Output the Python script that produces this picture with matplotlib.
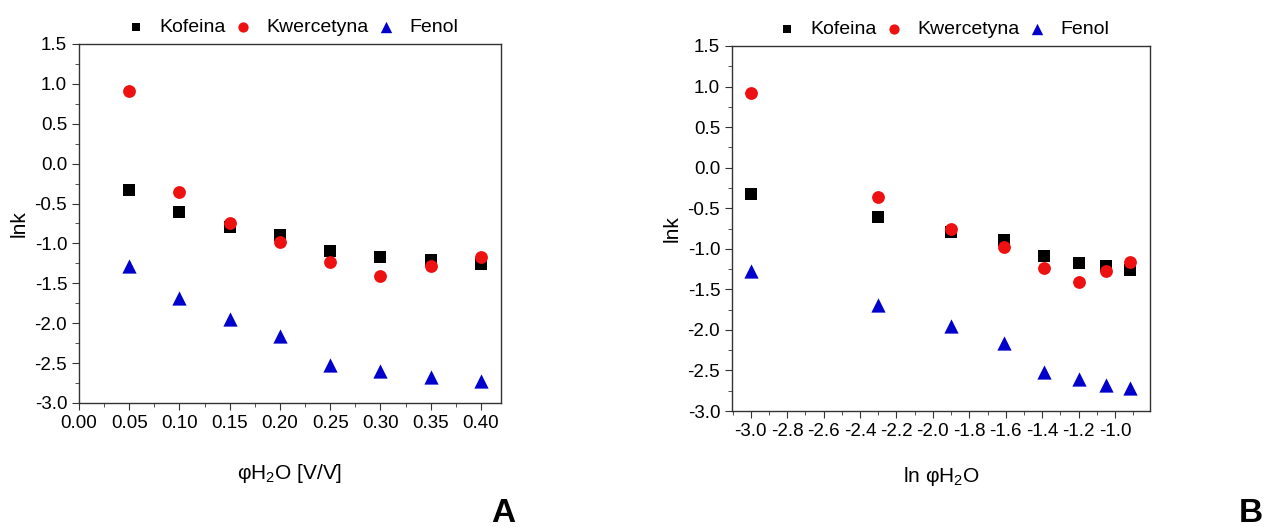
import matplotlib
matplotlib.use("Agg")
import matplotlib.pyplot as plt
from matplotlib.ticker import MultipleLocator, FormatStrFormatter

plt.rcParams['font.family'] = ['Liberation Sans', 'DejaVu Sans']
plt.rcParams['mathtext.fontset'] = 'custom'
plt.rcParams['mathtext.rm'] = 'Liberation Sans'
plt.rcParams['mathtext.it'] = 'Liberation Sans:italic'

phi = [0.05, 0.10, 0.15, 0.20, 0.25, 0.30, 0.35, 0.40]
ln_phi = [-3.00, -2.30, -1.90, -1.61, -1.39, -1.20, -1.05, -0.92]
kofeina = [-0.33, -0.61, -0.79, -0.89, -1.09, -1.17, -1.21, -1.26]
kwercetyna = [0.915, -0.36, -0.75, -0.98, -1.235, -1.41, -1.28, -1.165]
fenol = [-1.28, -1.69, -1.95, -2.16, -2.52, -2.60, -2.68, -2.72]

series = [("Kofeina", kofeina, "s", "black", 64),
          ("Kwercetyna", kwercetyna, "o", "#ee1111", 85),
          ("Fenol", fenol, "^", "#0000cc", 105)]

fig = plt.figure(figsize=(12.66, 5.27), dpi=100)
W, H = 1266, 527
axA = fig.add_axes([79 / W, 1 - 403 / H, (501 - 79) / W, (403 - 44) / H])
axB = fig.add_axes([732 / W, 1 - 411 / H, (1150 - 732) / W, (411 - 46) / H])

for ax, xs in ((axA, phi), (axB, ln_phi)):
    for name, ys, m, c, s in series:
        ax.scatter(xs, ys, marker=m, color=c, s=s, label=name, linewidths=0, zorder=3)
    ax.set_ylim(-3.0, 1.5)
    ax.yaxis.set_major_locator(MultipleLocator(0.5))
    ax.yaxis.set_minor_locator(MultipleLocator(0.25))
    ax.yaxis.set_major_formatter(FormatStrFormatter('%.1f'))
    ax.tick_params(which='both', direction='out', top=False, right=False, labelsize=13.5, color='#333333')
    ax.tick_params(which='major', length=5)
    ax.tick_params(which='minor', length=3)
    for sp in ax.spines.values():
        sp.set_color('#333333')
        sp.set_linewidth(1.0)
    ax.set_ylabel("lnk", fontsize=15, labelpad=4)
    ax.legend(loc='center', bbox_to_anchor=(0.5, 1.047), ncol=3, frameon=False,
              fontsize=14, handletextpad=0.5, columnspacing=0.2, borderaxespad=0.0,
              handlelength=1.4, markerscale=0.8)

axA.set_xlim(0.0, 0.42)
axA.xaxis.set_major_locator(MultipleLocator(0.05))
axA.xaxis.set_minor_locator(MultipleLocator(0.025))
axA.xaxis.set_major_formatter(FormatStrFormatter('%.2f'))
axA.set_xlabel("\u03c6H$_\\mathrm{2}$O [V/V]", fontsize=15, labelpad=22)

axB.set_xlim(-3.103, -0.808)
axB.xaxis.set_major_locator(MultipleLocator(0.2))
axB.xaxis.set_minor_locator(MultipleLocator(0.1))
axB.xaxis.set_major_formatter(FormatStrFormatter('%.1f'))
axB.set_xlabel("ln \u03c6H$_\\mathrm{2}$O", fontsize=15, labelpad=18)

fig.text(503 / W, 1 - 514 / H, "A", fontsize=24, fontweight='bold', ha='center', va='center')
fig.text(1251 / W, 1 - 514 / H, "B", fontsize=24, fontweight='bold', ha='center', va='center')

fig.savefig("out.png", dpi=100, facecolor='white')
